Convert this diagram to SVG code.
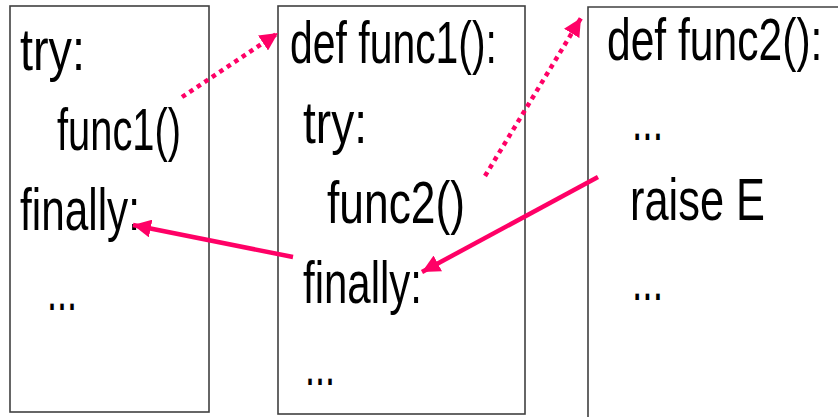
<svg xmlns="http://www.w3.org/2000/svg" width="838" height="417" viewBox="0 0 838 417">
<style>
.box{fill:#fff;stroke:#404040;stroke-width:1.6}
.t{font-family:"Liberation Sans",Arial,sans-serif;font-size:60px;fill:#000}
.dot{stroke:#ff0066;stroke-width:4.5;stroke-dasharray:4.5 4.5;fill:none}
.sol{stroke:#ff0066;stroke-width:4.5;fill:none}
</style>
<defs>
<marker id="ah" markerUnits="userSpaceOnUse" markerWidth="20" markerHeight="18" refX="18" refY="9" orient="auto">
<path d="M0,0 L18,9 L0,18 Z" fill="#ff0066"/>
</marker>
</defs>
<rect width="838" height="417" fill="#fff"/>
<g id="node1">
<rect class="box" x="10" y="6" width="199" height="406"/>
<text class="t" x="20" y="70" textLength="65" lengthAdjust="spacingAndGlyphs">try:</text>
<text class="t" x="57" y="150" textLength="124" lengthAdjust="spacingAndGlyphs">func1()</text>
<text class="t" x="20" y="230" textLength="120" lengthAdjust="spacingAndGlyphs">finally:</text>
<text class="t" x="47" y="310" textLength="30" lengthAdjust="spacingAndGlyphs">...</text>
</g>
<g id="node2">
<rect class="box" x="278" y="6" width="247" height="408"/>
<text class="t" x="290" y="63" textLength="207" lengthAdjust="spacingAndGlyphs">def func1():</text>
<text class="t" x="303" y="143" textLength="64" lengthAdjust="spacingAndGlyphs">try:</text>
<text class="t" x="327" y="223" textLength="138" lengthAdjust="spacingAndGlyphs">func2()</text>
<text class="t" x="303" y="303" textLength="119" lengthAdjust="spacingAndGlyphs">finally:</text>
<text class="t" x="305" y="385" textLength="30" lengthAdjust="spacingAndGlyphs">...</text>
</g>
<g id="node3">
<path class="box" d="M588,420 V7 H840"/>
<text class="t" transform="translate(607 60) scale(0.71 1)">def func2():</text>
<text class="t" x="632" y="140" textLength="31" lengthAdjust="spacingAndGlyphs">...</text>
<text class="t" x="630" y="220" textLength="135" lengthAdjust="spacingAndGlyphs">raise E</text>
<text class="t" x="632" y="300" textLength="31" lengthAdjust="spacingAndGlyphs">...</text>
</g>
<g id="connectors">
<line class="dot" x1="182" y1="97" x2="278" y2="33" marker-end="url(#ah)"/>
<line class="dot" x1="485" y1="176" x2="581" y2="18" marker-end="url(#ah)"/>
<line class="sol" x1="293" y1="257" x2="133" y2="225" marker-end="url(#ah)"/>
<line class="sol" x1="598" y1="177" x2="422" y2="272" marker-end="url(#ah)"/>
</g>
</svg>
